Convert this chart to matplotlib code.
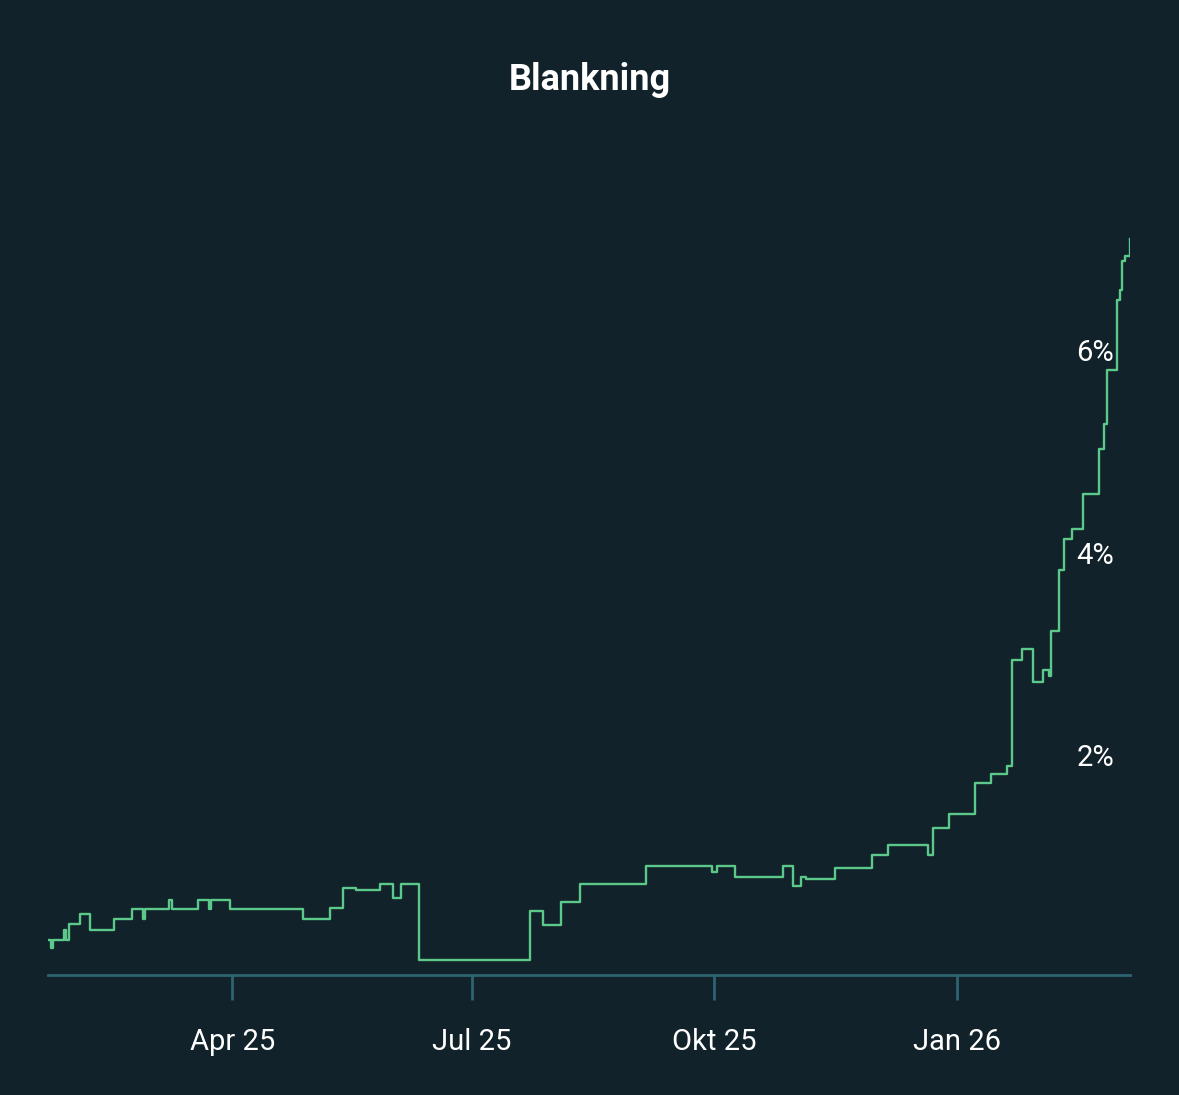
import datetime as dt
import matplotlib.pyplot as plt

plt.rcParams['font.family'] = ['Roboto', 'DejaVu Sans']

start = dt.date(2025, 1, 21)
# step changes: days since start, short interest in %
days = [0, 1, 2, 6, 7, 8, 12, 16, 25, 32, 36, 37, 46, 47, 57, 61, 62, 69, 97, 107,
        112, 117, 126, 131, 134, 141, 183, 188, 195, 202, 227, 252, 254, 261, 279, 283,
        286, 288, 299, 313, 319, 334, 336, 342, 352, 358, 364, 366, 370, 374, 378, 380,
        381, 384, 386, 389, 393, 399, 401, 402, 406, 407, 408, 409, 411]
pct = [0.20, 0.12, 0.20, 0.30, 0.20, 0.35, 0.45, 0.30, 0.40, 0.50, 0.40, 0.50, 0.59, 0.50,
       0.59, 0.50, 0.59, 0.50, 0.40, 0.51, 0.71, 0.69, 0.75, 0.61, 0.75, 0.0, 0.48, 0.34,
       0.57, 0.75, 0.93, 0.87, 0.93, 0.82, 0.93, 0.73, 0.82, 0.80, 0.91, 1.04, 1.14, 1.04,
       1.30, 1.44, 1.75, 1.84, 1.92, 2.97, 3.08, 2.75, 2.87, 2.81, 3.25, 3.86, 4.16, 4.26,
       4.61, 5.05, 5.30, 5.84, 6.53, 6.63, 6.91, 6.96, 7.13]
dates = [start + dt.timedelta(days=d) for d in days]

tick_dates = [dt.date(2025, 4, 1), dt.date(2025, 7, 1), dt.date(2025, 10, 1), dt.date(2026, 1, 1)]
tick_labels = ["Apr 25", "Jul 25", "Okt 25", "Jan 26"]
y_ticks = [2, 4, 6]

bg = "#11222a"
fig = plt.figure(figsize=(11.79, 10.95), dpi=100, facecolor=bg)
ax = fig.add_axes([0.0407, 0.1096, 0.918, 0.708], facecolor=bg)

ax.plot(dates, pct, drawstyle="steps-post", color="#5cc98a", linewidth=1.7)

ax.set_xlim(dates[0], dates[-1])
ax.set_ylim(-0.15, 7.52)
for s in ["top", "right", "left"]:
    ax.spines[s].set_visible(False)
ax.spines["bottom"].set_color("#2e6472")
ax.spines["bottom"].set_linewidth(2)

ax.set_xticks(tick_dates)
ax.set_xticklabels(tick_labels)
ax.tick_params(axis="x", colors="#2e6472", length=18, width=2, pad=20, labelcolor="white", labelsize=21)
ax.set_yticks([])
for v in y_ticks:
    ax.text(0.985, v, f"{v}%", transform=ax.get_yaxis_transform(), ha="right", va="center",
            color="white", fontsize=21)

fig.text(0.5, 0.927, "Blankning", ha="center", va="center", color="white",
         fontsize=26, fontweight="bold")

fig.savefig("out.png", facecolor=bg)
